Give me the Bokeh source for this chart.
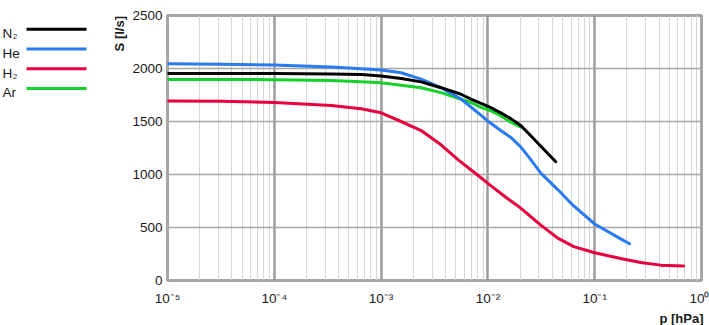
import math
from bokeh.plotting import figure
from bokeh.models import Range1d, FixedTicker, CustomJSTickFormatter, Title
from bokeh.layouts import row
from bokeh.embed import file_html
from bokeh.resources import INLINE
from bokeh.core.properties import value

# ---------------- data ----------------
gas_names = ["N₂", "He", "H₂", "Ar"]
gas_colors = ["#000000", "#2a7af0", "#e8003d", "#14d12a"]

p_n2 = [1e-5, 3.2e-5, 1e-4, 3.41e-4, 6.5e-4, 1e-3, 1.54e-3, 2.37e-3, 3.64e-3, 5.6e-3,
        6.94e-3, 8.6e-3, 1.07e-2, 1.32e-2, 1.64e-2, 2.03e-2, 2.52e-2, 3.13e-2, 4.32e-2]
s_n2 = [1952, 1952, 1952, 1949, 1943, 1930, 1905, 1874, 1819, 1757,
        1712, 1672, 1630, 1582, 1527, 1462, 1365, 1266, 1121]

p_he = [1e-5, 3.2e-5, 1e-4, 3.41e-4, 6.5e-4, 1e-3, 1.54e-3, 2.37e-3, 3.64e-3, 5.6e-3,
        8.6e-3, 9.8e-3, 1.32e-2, 1.64e-2, 2.03e-2, 2.52e-2, 3.13e-2, 4.51e-2,
        6.36e-2, 0.1, 0.175, 0.212]
s_he = [2045, 2040, 2032, 2015, 1998, 1986, 1960, 1900, 1820, 1712,
        1560, 1510, 1415, 1350, 1261, 1140, 1013, 858,
        703, 533, 393, 347]

p_h2 = [1e-5, 3.2e-5, 1e-4, 3.41e-4, 6.5e-4, 1e-3, 1.54e-3, 2.37e-3, 3.64e-3, 5.24e-3,
        7.89e-3, 1.07e-2, 1.47e-2, 1.99e-2, 3.13e-2, 4.51e-2, 6.36e-2, 0.1, 0.175,
        0.269, 0.414, 0.68]
s_h2 = [1694, 1690, 1679, 1650, 1620, 1582, 1500, 1415, 1280, 1140,
        1000, 893, 785, 690, 522, 400, 320, 262, 207,
        170, 145, 137]

p_ar = [1e-5, 3.2e-5, 1e-4, 3.41e-4, 6.5e-4, 1e-3, 1.54e-3, 2.37e-3, 3.64e-3, 5.6e-3,
        6.94e-3, 8.6e-3, 1.07e-2, 1.32e-2, 1.64e-2, 2.03e-2]
s_ar = [1896, 1896, 1895, 1886, 1874, 1865, 1843, 1819, 1772, 1710,
        1679, 1633, 1601, 1555, 1493, 1447]

x_ticks = [1e-5, 1e-4, 1e-3, 1e-2, 1e-1, 1.0]
x_tick_labels = ["10⁻⁵", "10⁻⁴", "10⁻³", "10⁻²", "10⁻¹", "10⁰"]
y_ticks = [0, 500, 1000, 1500, 2000, 2500]
x_title = "p [hPa]"
y_title = "S [l/s]"

series_p = [p_n2, p_he, p_h2, p_ar]
series_s = [s_n2, s_he, s_h2, s_ar]

FONT = "Liberation Sans"
TXT = "#1a1a1a"
W, H = 709, 325
LEG_W = 129
FRAME_TOP, FRAME_BOTTOM = 15, 284   # pixel rows of the plotting frame

# ---------------- legend / left panel (pixel coordinates) ----------------
# the row layout aligns this panel's frame with the chart frame (rows 15..284)
leg = figure(width=LEG_W, height=H, x_range=Range1d(0, LEG_W),
             y_range=Range1d(H - FRAME_BOTTOM, H - FRAME_TOP),
             x_axis_location=None, y_axis_location=None, toolbar_location=None,
             output_backend="svg", min_border_left=0, min_border_right=0,
             min_border_top=FRAME_TOP, min_border_bottom=H - FRAME_BOTTOM,
             outline_line_color=None)
leg.grid.visible = False

row_y = [29, 49, 69, 89]
for name, col, ry in zip(gas_names, gas_colors, row_y):
    yy = H - ry
    base = name.replace("₂", "")
    leg.text(x=[2], y=[yy - 4.5], text=[base], text_font=value(FONT),
             text_font_size=value("13.5px"), text_color=TXT,
             text_baseline="alphabetic", text_align="left")
    if "₂" in name:
        leg.text(x=[12.5], y=[yy - 7.5], text=["2"], text_font=value(FONT),
                 text_font_size=value("7.5px"), text_color=TXT,
                 text_baseline="alphabetic", text_align="left")
    leg.segment(x0=[26], y0=[yy], x1=[86], y1=[yy], line_color=col, line_width=3)

leg.text(x=[119], y=[H - FRAME_TOP - 0.5], text=[y_title], angle=math.pi / 2,
         text_font=value(FONT), text_font_size=value("13px"),
         text_font_style="bold", text_color=TXT,
         text_align="right", text_baseline="middle")

# ---------------- main chart ----------------
p = figure(width=W - LEG_W, height=H, x_axis_type="log",
           x_range=Range1d(1e-5, 1.0), y_range=Range1d(0, 2500),
           toolbar_location=None, output_backend="svg",
           min_border_left=166 - LEG_W, min_border_right=8,
           min_border_top=FRAME_TOP, min_border_bottom=H - FRAME_BOTTOM)

p.background_fill_color = "white"
p.border_fill_color = "white"
p.outline_line_color = "#a6a6a6"
p.outline_line_width = 3

minor = [m * 10.0 ** e for e in range(-5, 0) for m in range(2, 10)]
xt = FixedTicker(ticks=x_ticks, minor_ticks=minor)
p.xaxis.ticker = xt
p.xgrid.ticker = xt
p.yaxis.ticker = FixedTicker(ticks=y_ticks)
p.ygrid.ticker = FixedTicker(ticks=y_ticks)

p.xaxis.formatter = CustomJSTickFormatter(
    args=dict(vals=x_ticks, labels=x_tick_labels),
    code="""
    for (let i = 0; i < vals.length; i++) {
        if (Math.abs(Math.log10(tick) - Math.log10(vals[i])) < 1e-6) return labels[i];
    }
    return "";
    """)

for ax in (p.xaxis[0], p.yaxis[0]):
    ax.axis_line_color = None
    ax.major_tick_line_color = None
    ax.minor_tick_line_color = None
    ax.major_tick_out = 0
    ax.major_tick_in = 0
    ax.minor_tick_out = 0
    ax.minor_tick_in = 0
    ax.major_label_text_font = FONT
    ax.major_label_text_font_size = "13.5px"
    ax.major_label_text_color = TXT
p.xaxis.major_label_standoff = 10
p.yaxis.major_label_standoff = 5

p.xgrid.grid_line_color = "#9c9c9c"
p.xgrid.grid_line_width = 2.5
p.xgrid.minor_grid_line_color = "#d6d6d6"
p.xgrid.minor_grid_line_width = 1
p.ygrid.grid_line_color = "#a8a8a8"
p.ygrid.grid_line_width = 1.5

draw_order = [2, 3, 1, 0]
for i in draw_order:
    p.line(series_p[i], series_s[i], line_color=gas_colors[i], line_width=3,
           line_join="round", line_cap="round")

p.add_layout(Title(text=x_title, align="right", text_font=FONT, text_font_size="13px",
                   text_font_style="bold", text_color=TXT, standoff=0, offset=-2), "below")

layout = row(leg, p)
open("out.html", "w").write(file_html(layout, INLINE))
